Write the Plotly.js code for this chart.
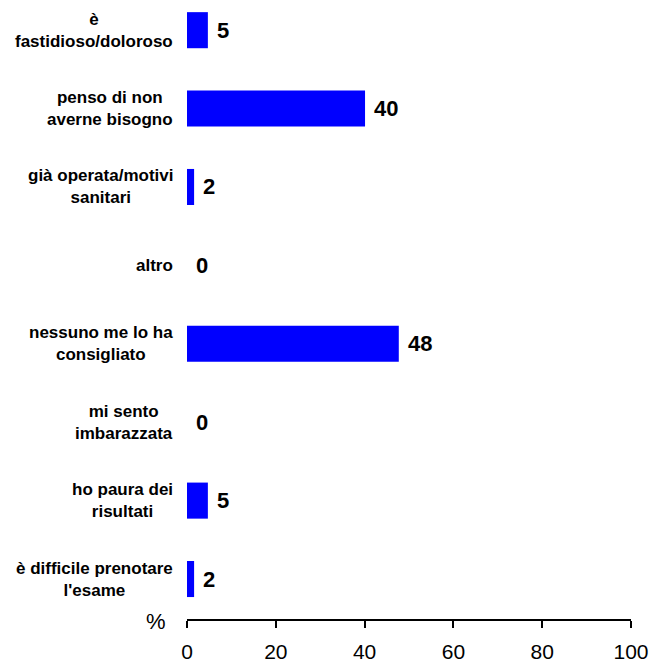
<!DOCTYPE html>
<html>
<head>
<meta charset="utf-8">
<script src="https://cdn.plot.ly/plotly-3.0.1.min.js"></script>
<style>html,body{margin:0;padding:0;background:#fff;}#chart{width:659px;height:662px;}</style>
</head>
<body>
<div id="chart"></div>
<script>
// Categories listed top to bottom
var categories = [
  "è<br>fastidioso/doloroso",
  "penso di non<br>averne bisogno",
  "già operata/motivi<br>sanitari",
  "altro",
  "nessuno me lo ha<br>consigliato",
  "mi sento<br>imbarazzata",
  "ho paura dei<br>risultati",
  "è difficile prenotare<br>l'esame"
];
var values = [4.7, 40.1, 1.6, 0, 47.7, 0, 4.7, 1.6];
var xTicks = [0, 20, 40, 60, 80, 100];

var FONT = "Liberation Sans, Arial, sans-serif";

// Plot bottom-to-top so that the first category is at the top
var catsPlot = categories.slice().reverse();
var valsPlot = values.slice().reverse();

var trace = {
  type: "bar",
  orientation: "h",
  y: catsPlot,
  x: valsPlot,
  marker: {color: "#0000FF", line: {width: 0}},
  hoverinfo: "none"
};

var annotations = [];
categories.forEach(function (c, i) {
  annotations.push({
    xref: "paper", yref: "y", x: 0, y: c,
    text: "<b>" + c + "</b>", showarrow: false,
    xanchor: "right", yanchor: "middle", align: "center",
    xshift: -12,
    font: {family: FONT, size: 17, color: "#000"}
  });
  annotations.push({
    xref: "x", yref: "y", x: values[i], y: c,
    text: "<b>" + Math.round(values[i]) + "</b>", showarrow: false,
    xanchor: "left", yanchor: "middle",
    xshift: 7,
    font: {family: FONT, size: 22, color: "#000"}
  });
});
annotations.push({
  xref: "paper", yref: "paper", x: 0, y: 0,
  text: "%", showarrow: false,
  xanchor: "right", yanchor: "middle",
  xshift: -19, yshift: -2,
  font: {family: FONT, size: 22, color: "#000"}
});

var layout = {
  width: 659, height: 662,
  margin: {l: 187, r: 28, t: 0, b: 43, pad: 0},
  paper_bgcolor: "#fff", plot_bgcolor: "#fff",
  showlegend: false,
  bargap: 0.54,
  font: {family: FONT, color: "#000"},
  xaxis: {
    range: [0, 100],
    tickvals: xTicks,
    ticktext: xTicks.map(String),
    showgrid: false, zeroline: false,
    showline: true, linecolor: "#000", linewidth: 2,
    ticks: "outside", ticklen: 7, tickwidth: 2, tickcolor: "#000",
    ticklabelstandoff: 6,
    tickfont: {family: FONT, size: 21, color: "#000"},
    fixedrange: true
  },
  yaxis: {
    type: "category",
    categoryorder: "array",
    categoryarray: catsPlot,
    range: [-0.51, 7.385],
    showticklabels: false,
    showgrid: false, zeroline: false, showline: false,
    ticks: "",
    fixedrange: true
  },
  annotations: annotations
};

Plotly.newPlot("chart", [trace], layout, {displayModeBar: false, staticPlot: true});
</script>
</body>
</html>
